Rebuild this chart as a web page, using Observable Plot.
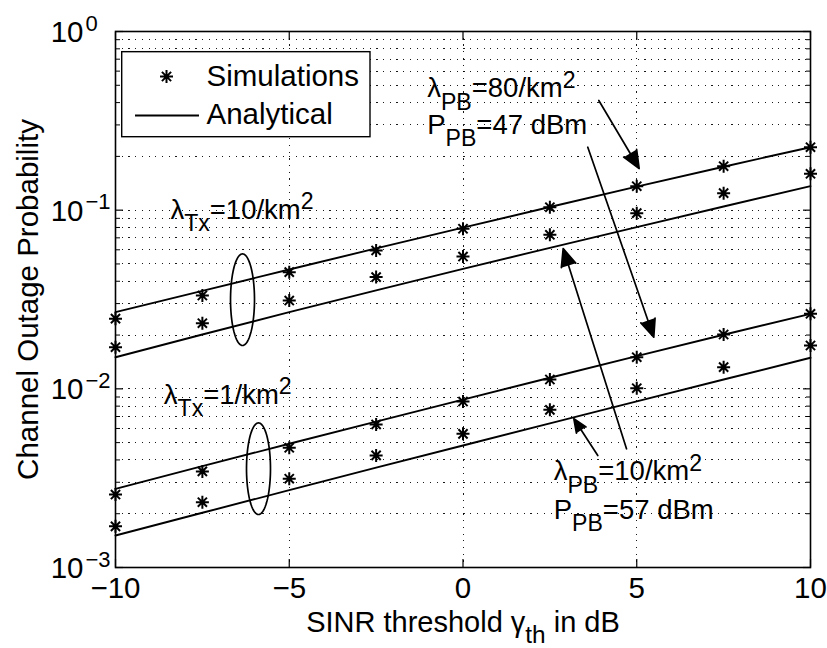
<!DOCTYPE html>
<html>
<head>
<meta charset="utf-8">
<script src="https://cdn.jsdelivr.net/npm/d3@7"></script>
<script src="https://cdn.jsdelivr.net/npm/@observablehq/plot@0.6"></script>
<style>
  body { margin: 0; background: #fff; }
  #chart { width: 827px; height: 648px; font-family: "Liberation Sans", Arial, Helvetica, sans-serif; }
  #chart svg { display: block; }
</style>
</head>
<body>
<div id="chart"></div>
<script>
// ---------------- data ----------------
const sinr = [-10, -7.5, -5, -2.5, 0, 2.5, 5, 7.5, 10];

// Simulations (stars)
const simTx10PB80 = [0.0247, 0.0333, 0.0450, 0.0595, 0.0787, 0.1039, 0.1362, 0.1762, 0.2251];
const simTx10PB10 = [0.0171, 0.0233, 0.0312, 0.0422, 0.0550, 0.0728, 0.0962, 0.1245, 0.1598];
const simTx1PB80  = [0.00256, 0.00345, 0.00468, 0.00632, 0.00849, 0.01128, 0.01503, 0.02014, 0.0263];
const simTx1PB10  = [0.00170, 0.00232, 0.00314, 0.00424, 0.00560, 0.00763, 0.01008, 0.01322, 0.01748];

// Analytical (lines)
const anaTx10PB80 = [0.02685, 0.03537, 0.04655, 0.06109, 0.07986, 0.1042, 0.1355, 0.1751, 0.2251];
const anaTx10PB10 = [0.01503, 0.02014, 0.02685, 0.03556, 0.04692, 0.06157, 0.08039, 0.1048, 0.1362];
const anaTx1PB80  = [0.002757, 0.00369, 0.004926, 0.006556, 0.008703, 0.01153, 0.01523, 0.02007, 0.0263];
const anaTx1PB10  = [0.00151, 0.002024, 0.002708, 0.00362, 0.004818, 0.006405, 0.008506, 0.01128, 0.01492];

// Ticks
const xTicks = [-10, -5, 0, 5, 10];
const xTickLabels = ["\u221210", "\u22125", "0", "5", "10"];
const yTicks = [1, 0.1, 0.01, 0.001];
const yTickExps = ["0", "\u22121", "\u22122", "\u22123"];
const yMinorMantissas = [2, 3, 4, 5, 6, 7, 8, 9];
const yDecades = [0.001, 0.01, 0.1];

// Text
const xLabel = "SINR threshold \u03b3_{th} in dB";
const yLabel = "Channel Outage Probability";
const legendLabels = ["Simulations", "Analytical"];

// ---------------- annotations (data coordinates) ----------------
const annoTexts = [
  {x: -8.42, y: 0.0898,  t: "\u03bb_{Tx}=10/km^{2}"},
  {x: -8.61, y: 0.00825, t: "\u03bb_{Tx}=1/km^{2}"},
  {x: -1.03, y: 0.4288,  t: "\u03bb_{PB}=80/km^{2}"},
  {x: -1.03, y: 0.2676,  t: "P_{PB}=47 dBm"},
  {x: 2.61,  y: 0.003069, t: "\u03bb_{PB}=10/km^{2}"},
  {x: 2.61,  y: 0.001874, t: "P_{PB}=57 dBm"}
];
const annoArrows = [
  {x1: 3.908, y1: 0.4110,   x2: 5.070, y2: 0.1710},
  {x1: 3.591, y1: 0.2251,   x2: 5.490, y2: 0.01945},
  {x1: 4.705, y1: 0.004618, x2: 2.883, y2: 0.0610},
  {x1: 3.879, y1: 0.004235, x2: 3.190, y2: 0.006797}
];
const annoEllipses = [
  {cx: -6.345, cy: 0.03155,  rx: 0.345, ry: 0.2563},
  {cx: -5.885, cy: 0.003573, rx: 0.345, ry: 0.2563}
];
const legendBox = {x1: -9.807, x2: -2.662, y1: 0.2561, y2: 0.7661};
const legendStar = {x: -8.532, y: 0.56};
const legendLine = {x1: -9.424, x2: -7.583, y: 0.3388};
const legendText = {x: -7.381, y: [0.4985, 0.3017]};

// ---------------- build tables ----------------
const series = [
  {key: "Tx10-PB80", sim: simTx10PB80, ana: anaTx10PB80},
  {key: "Tx10-PB10", sim: simTx10PB10, ana: anaTx10PB10},
  {key: "Tx1-PB80",  sim: simTx1PB80,  ana: anaTx1PB80},
  {key: "Tx1-PB10",  sim: simTx1PB10,  ana: anaTx1PB10}
];
const anaRows = series.flatMap(s => sinr.map((x, i) => ({x, y: s.ana[i], s: s.key})));
const simRows = series.flatMap(s => sinr.map((x, i) => ({x, y: s.sim[i], s: s.key})));
const yMinor = yMinorMantissas.flatMap(m => yDecades.map(p => m * p));
const yGrid = [...yMinor, 0.01, 0.1];
const xGrid = [-5, 0, 5];

const ellipseRows = annoEllipses.flatMap((e, k) => d3.range(97).map(i => {
  const t = 2 * Math.PI * i / 96;
  return {x: e.cx + e.rx * Math.cos(t), y: e.cy * Math.pow(10, e.ry * Math.sin(t)), k};
}));

// 8-arm asterisk marker (MATLAB '*')
const asterisk8 = {
  draw(ctx, size) {
    const r = Math.sqrt(size / Math.PI);
    const d = r * Math.SQRT1_2;
    ctx.moveTo(-r, 0); ctx.lineTo(r, 0);
    ctx.moveTo(0, -r); ctx.lineTo(0, r);
    ctx.moveTo(-d, -d); ctx.lineTo(d, d);
    ctx.moveTo(-d, d); ctx.lineTo(d, -d);
  }
};

const FONT = "'Liberation Sans', Arial, Helvetica, sans-serif";
const dotted = {stroke: "black", strokeWidth: 1, strokeDasharray: "1.2,5.5", strokeOpacity: 0.9, shapeRendering: "crispEdges"};

const svg = Plot.plot({
  width: 827,
  height: 648,
  marginLeft: 115,
  marginRight: 17,
  marginTop: 31,
  marginBottom: 81,
  style: {fontFamily: FONT, background: "white", color: "black", overflow: "visible"},
  x: {domain: [-10, 10]},
  y: {type: "log", domain: [0.001, 1]},
  marks: [
    // grid
    Plot.ruleY(yGrid, {y: d => d, ...dotted}),
    Plot.ruleX(xGrid, {x: d => d, ...dotted}),
    // analytical lines
    Plot.line(anaRows, {x: "x", y: "y", z: "s", stroke: "black", strokeWidth: 1.9}),
    // simulations
    Plot.dot(simRows, {x: "x", y: "y", symbol: asterisk8, r: 6.5, stroke: "black", strokeWidth: 2, fill: "none"}),
    // ellipses
    Plot.line(ellipseRows, {x: "x", y: "y", z: "k", stroke: "black", strokeWidth: 1.7}),
    // arrows
    Plot.arrow(annoArrows, {x1: "x1", y1: "y1", x2: "x2", y2: "y2", stroke: "black", fill: "black",
      strokeWidth: 1.7, headLength: 17, headAngle: 46}),
    // annotation texts
    Plot.text(annoTexts, {x: "x", y: "y", text: "t", textAnchor: "start", lineAnchor: "bottom",
      fontSize: 27.5, fill: "black"}),
    // legend
    Plot.rect([legendBox], {x1: "x1", x2: "x2", y1: "y1", y2: "y2", fill: "white", stroke: "black", strokeWidth: 1.4}),
    Plot.dot([legendStar], {x: "x", y: "y", symbol: asterisk8, r: 6.5, stroke: "black", strokeWidth: 2, fill: "none"}),
    Plot.ruleY([legendLine], {y: "y", x1: "x1", x2: "x2", stroke: "black", strokeWidth: 1.9}),
    Plot.text(legendLabels, {x: legendText.x, y: (d, i) => legendText.y[i], text: d => d,
      textAnchor: "start", lineAnchor: "bottom", fontSize: 29.5, fill: "black"}),
    // frame
    Plot.frame({stroke: "black", strokeWidth: 1.6}),
    // inward ticks
    Plot.axisY({anchor: "left", ticks: yMinor, tickSize: -5, tickFormat: () => "", label: null, strokeWidth: 1}),
    Plot.axisY({anchor: "right", ticks: yMinor, tickSize: -5, tickFormat: () => "", label: null, strokeWidth: 1}),
    Plot.axisY({anchor: "left", ticks: yTicks, tickSize: -8, tickFormat: () => "", label: null, strokeWidth: 1.2}),
    Plot.axisY({anchor: "right", ticks: yTicks, tickSize: -8, tickFormat: () => "", label: null, strokeWidth: 1.2}),
    Plot.axisX({anchor: "top", ticks: xTicks, tickSize: -8, tickFormat: () => "", label: null, strokeWidth: 1.2}),
    Plot.axisX({anchor: "bottom", ticks: xTicks, tickSize: -8, tickPadding: 18, label: null, strokeWidth: 1.2,
      tickFormat: d => xTickLabels[xTicks.indexOf(d)], fontSize: 29.5}),
    // y tick labels 10^k
    Plot.text(yTicks, {y: d => d, frameAnchor: "left", text: () => "10", textAnchor: "end",
      lineAnchor: "bottom", dx: -32, dy: 10.5, fontSize: 29.5, fill: "black"}),
    Plot.text(yTicks, {y: d => d, frameAnchor: "left", text: (d, i) => yTickExps[i], textAnchor: "start",
      lineAnchor: "bottom", dx: -30, dy: -1, fontSize: 22, fill: "black"}),
    // axis labels
    Plot.text([xLabel], {frameAnchor: "bottom", text: d => d, textAnchor: "middle", lineAnchor: "bottom",
      dy: 64, fontSize: 29, fill: "black"}),
    Plot.text([yLabel], {frameAnchor: "left", text: d => d, textAnchor: "middle", lineAnchor: "bottom",
      rotate: -90, dx: -78, fontSize: 29.5, fill: "black"})
  ]
});

document.getElementById("chart").appendChild(svg);

// rich text: _{sub} and ^{sup}
const NS = "http://www.w3.org/2000/svg";
function richify(el) {
  const s = el.textContent;
  if (!/[_^]\{/.test(s)) return;
  const fs = parseFloat(getComputedStyle(el).fontSize) || 28;
  const subShift = fs >= 29 ? 0.38 : 0.45;
  const segs = [];
  const re = /([_^])\{([^}]*)\}/g;
  let last = 0, m;
  while ((m = re.exec(s))) {
    if (m.index > last) segs.push({type: "n", text: s.slice(last, m.index)});
    segs.push({type: m[1] === "_" ? "sub" : "sup", text: m[2]});
    last = re.lastIndex;
  }
  if (last < s.length) segs.push({type: "n", text: s.slice(last)});
  el.textContent = "";
  let cur = 0;
  for (const g of segs) {
    const t = document.createElementNS(NS, "tspan");
    const target = g.type === "sub" ? subShift * fs : g.type === "sup" ? -0.34 * fs : 0;
    if (target - cur !== 0) t.setAttribute("dy", (target - cur).toFixed(2));
    cur = target;
    if (g.type !== "n") t.setAttribute("font-size", (fs * 0.84).toFixed(1));
    t.textContent = g.text;
    el.appendChild(t);
  }
}
d3.select(svg).selectAll("text").each(function () { richify(this); });
</script>
</body>
</html>
